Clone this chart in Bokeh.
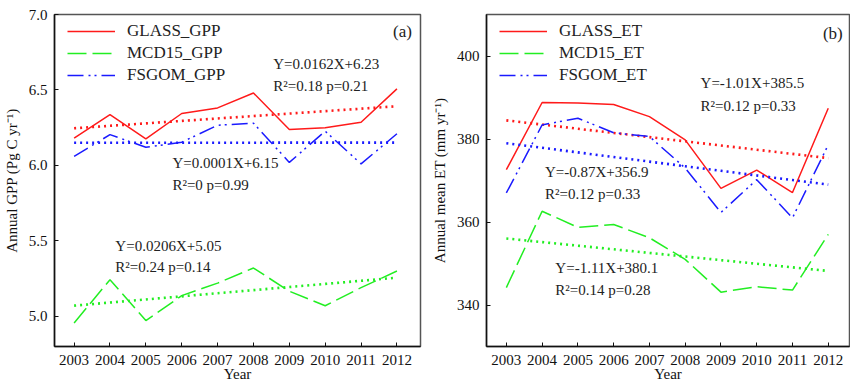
from bokeh.plotting import figure
from bokeh.layouts import row
from bokeh.models import Range1d, FixedTicker, Legend, LegendItem, PrintfTickFormatter
from bokeh.core.properties import value
from bokeh.embed import file_html
from bokeh.resources import INLINE

# ---------------- data ----------------
years = [2003, 2004, 2005, 2006, 2007, 2008, 2009, 2010, 2011, 2012]
year_index = [1, 2, 3, 4, 5, 6, 7, 8, 9, 10]

glass_gpp = [6.18, 6.337, 6.176, 6.344, 6.381, 6.48, 6.238, 6.249, 6.286, 6.507]
mcd15_gpp = [4.956, 5.243, 4.972, 5.137, 5.22, 5.32, 5.166, 5.07, 5.19, 5.30]
fsgom_gpp = [6.06, 6.204, 6.12, 6.154, 6.266, 6.28, 6.02, 6.227, 6.01, 6.21]

glass_et = [372.6, 388.8, 388.7, 388.3, 385.4, 379.8, 368.1, 372.5, 367.1, 387.4]
mcd15_et = [344.2, 362.6, 358.7, 359.4, 356.2, 351.0, 343.1, 344.4, 343.6, 357.0]
fsgom_et = [367.0, 383.4, 385.0, 381.5, 380.6, 373.0, 362.3, 370.2, 361.0, 378.6]

# regression coefficients (Y = slope * X + intercept, X = 1..10)
gpp_slopes = [0.0162, 0.0206, 0.0001]
gpp_intercepts = [6.23, 5.05, 6.15]
et_slopes = [-1.01, -0.87, -1.11]
et_intercepts = [385.5, 356.9, 380.1]

gpp_labels = ["GLASS_GPP", "MCD15_GPP", "FSGOM_GPP"]
et_labels = ["GLASS_ET", "MCD15_ET", "FSGOM_ET"]

gpp_ticks = [5.0, 5.5, 6.0, 6.5, 7.0]
et_ticks = [340, 360, 380, 400]

gpp_eq_text = ["Y=0.0162X+6.23", "R\u00b2=0.18 p=0.21",
               "Y=0.0001X+6.15", "R\u00b2=0 p=0.99",
               "Y=0.0206X+5.05", "R\u00b2=0.24 p=0.14"]
et_eq_text = ["Y=-1.01X+385.5", "R\u00b2=0.12 p=0.33",
              "Y=-0.87X+356.9", "R\u00b2=0.12 p=0.33",
              "Y=-1.11X+380.1", "R\u00b2=0.14 p=0.28"]

# ---------------- positions / styles ----------------
gpp_eq_x = [2008.55, 2008.55, 2005.74, 2005.74, 2004.15, 2004.15]
gpp_eq_y = [6.67, 6.523, 6.013, 5.867, 5.464, 5.325]
et_eq_x = [2008.43, 2008.43, 2004.08, 2004.08, 2004.37, 2004.37]
et_eq_y = [393.4, 387.9, 372.0, 366.7, 349.0, 343.5]

COLORS = ["#ff1a1a", "#22ee22", "#1a1aff"]
DASHES = ["solid", "19 6", "16 5 2 4 2 5"]
FONT = "Liberation Serif"


def make_panel(series, labels, slopes, intercepts, ticks, fmt, xr, yr, ylabel,
               eq_x, eq_y, eq_text, tag, tag_xy, width, border_left, border_right):
    p = figure(width=width, height=384, output_backend="svg", toolbar_location=None,
               x_range=Range1d(*xr), y_range=Range1d(*yr),
               min_border_left=border_left, min_border_right=border_right,
               min_border_top=14, min_border_bottom=38)
    p.xgrid.visible = False
    p.ygrid.visible = False
    p.outline_line_color = "#555555"
    p.outline_line_width = 1.5

    for ax in (p.xaxis[0], p.yaxis[0]):
        ax.major_tick_in = 4
        ax.major_tick_out = 0
        ax.minor_tick_line_color = None
        ax.axis_line_color = "#111111"
        ax.axis_line_width = 1.5
        ax.major_tick_line_color = "#111111"
        ax.major_label_text_font = FONT
        ax.major_label_text_font_size = "15px"
        ax.major_label_text_color = "#111111"
        ax.axis_label_text_font = FONT
        ax.axis_label_text_font_size = "15px"
        ax.axis_label_text_font_style = "normal"
        ax.axis_label_text_color = "#111111"

    p.xaxis.ticker = FixedTicker(ticks=years)
    p.xaxis.major_label_standoff = 8
    p.xaxis.axis_label = "Year"
    p.xaxis.axis_label_standoff = -2
    p.yaxis.ticker = FixedTicker(ticks=ticks)
    p.yaxis.formatter = PrintfTickFormatter(format=fmt)
    p.yaxis.major_label_standoff = 7
    p.yaxis.axis_label = ylabel
    p.yaxis.axis_label_standoff = 6

    items = []
    for vals, lab, col, dash, s, b in zip(series, labels, COLORS, DASHES, slopes, intercepts):
        trend = [s * i + b for i in year_index]
        p.line(years, trend, line_color=col, line_width=2.6, line_dash="2 4")
        r = p.line(years, vals, line_color=col, line_width=1.5, line_dash=dash)
        items.append(LegendItem(label=lab, renderers=[r]))

    p.text(x=eq_x, y=eq_y, text=eq_text, text_font=value(FONT), text_font_size="15px",
           text_baseline="middle", text_align="left", text_color="#222222")
    p.text(x=[tag_xy[0]], y=[tag_xy[1]], text=[tag], text_font=value(FONT),
           text_font_size="17px", text_baseline="middle", text_align="left",
           text_color="#222222")

    legend = Legend(items=items, location=(13, 260), padding=0, margin=0, spacing=0,
                    glyph_width=48, glyph_height=22, label_height=22, label_standoff=12,
                    label_text_font=FONT, label_text_font_size="17px",
                    label_text_color="#222222",
                    background_fill_alpha=0, border_line_color=None)
    p.add_layout(legend)
    return p


p1 = make_panel([glass_gpp, mcd15_gpp, fsgom_gpp], gpp_labels, gpp_slopes, gpp_intercepts,
                gpp_ticks, "%.1f", (2002.453, 2012.657), (4.8, 7.0),
                "Annual GPP (Pg C yr\u207b\u00b9)", gpp_eq_x, gpp_eq_y, gpp_eq_text,
                "(a)", (2011.89, 6.889), 428, 47, 8)
p2 = make_panel([glass_et, mcd15_et, fsgom_et], et_labels, et_slopes, et_intercepts,
                et_ticks, "%d", (2002.445, 2012.594), (330, 410),
                "Annual mean ET (mm yr\u207b\u00b9)", et_eq_x, et_eq_y, et_eq_text,
                "(b)", (2011.85, 405.4), 422, 50, 1)

layout = row(p1, p2)
open("out.html", "w").write(file_html(layout, INLINE))
